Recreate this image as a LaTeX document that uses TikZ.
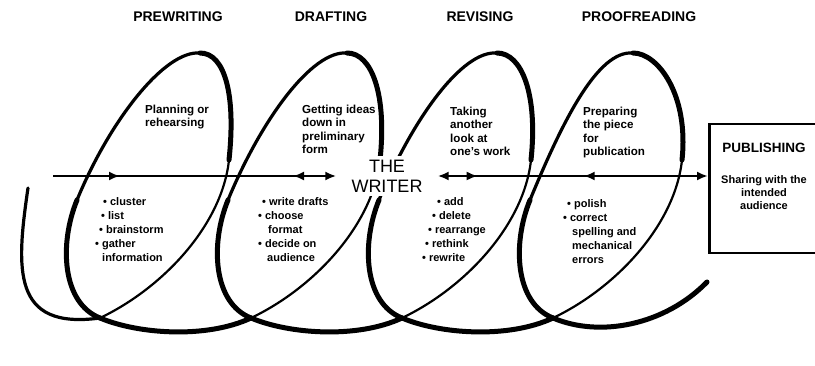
\documentclass[tikz,border=0pt]{standalone}
\usepackage{fontspec}
\setmainfont{Liberation Sans}
\usetikzlibrary{positioning,arrows.meta,decorations.markings}

\begin{document}
\begin{tikzpicture}[x=1pt,y=-1pt,
	stagehead/.style={font=\fontsize{14}{16}\selectfont\bfseries,anchor=base,inner sep=0pt},
	looptext/.style={font=\fontsize{11.6}{13.3}\selectfont\bfseries,align=left,anchor=north west,inner sep=0pt},
	itemtext/.style={font=\fontsize{11}{14}\selectfont\bfseries,align=left,anchor=north west,inner sep=0pt},
	coilthin/.style={line width=2.2pt,line cap=round},
	coilmid/.style={line width=3.2pt,line cap=round},
	coilthick/.style={line width=5pt,line cap=round},
	flowarrow/.style={line width=2.5pt,postaction={decorate}},
	writerbox/.style={font=\fontsize{18}{20}\selectfont,align=center,fill=white,inner xsep=15pt,inner ysep=4pt},
	pubbox/.style={draw,line width=2.5pt,anchor=north west,minimum width=135pt,minimum height=129pt}]

		\useasboundingbox (0,0) rectangle (815,366);
		\clip (0,0) rectangle (815,366);

		\draw[coilmid] (28,188) .. controls (16,270) and (12,330) .. (100,318);
		\foreach \i/\dt in {0/0,1/-4,2/-5,3/-20}{
			\begin{scope}[xshift=\i*151pt]
				\draw[coilthin] (100,318) .. controls (163,288) and (222,225) .. (229,160);
				\draw[coilthick] (229,160) .. controls (236,95) and (225+\dt,53) .. (200+\dt,53);
				\draw[coilmid] (200+\dt,53) .. controls (165+\dt,50) and (110,120) .. (77,200);
				\draw[coilthick] (77,200) .. controls (59,244) and (62,303) .. (100,318);
				\ifnum\i<3
					\draw[coilthick] (100,318) .. controls (138,334) and (206,339) .. (251,318);
				\fi
			\end{scope}
		}
		\draw[coilthick] (553,318) .. controls (600,338) and (665,325) .. (707,282);

		\node[stagehead]	(pre)	at (178,22)	{PREWRITING};
		\node[stagehead]	(dra)	at (331,22)	{DRAFTING};
		\node[stagehead]	(rev)	at (480,22)	{REVISING};
		\node[stagehead]	(pro)	at (639,22)	{PROOFREADING};

		\node[looptext]	(plan)	at (145,105)	{Planning or\\rehearsing};
		\node[looptext]	(ideas)	at (302,105)	{Getting ideas\\down in\\preliminary\\form};
		\node[looptext]	(look)	at (450,107)	{Taking\\another\\look at\\one's work};
		\node[looptext]	(prep)	at (583,107)	{Preparing\\the piece\\for\\publication};

		\node[itemtext]	(prelist)	at (95,197)	{\hspace{8pt}\textbullet\ cluster\\\hspace{6pt}\textbullet\ list\\\hspace{4pt}\textbullet\ brainstorm\\\textbullet\ gather\\\hspace{7pt}information};
		\node[itemtext]	(dralist)	at (258,197)	{\hspace{4pt}\textbullet\ write drafts\\\textbullet\ choose\\\hspace{10pt}format\\\textbullet\ decide on\\\hspace{9pt}audience};
		\node[itemtext]	(revlist)	at (422,197)	{\hspace{15pt}\textbullet\ add\\\hspace{10pt}\textbullet\ delete\\\hspace{6pt}\textbullet\ rearrange\\\hspace{3pt}\textbullet\ rethink\\\textbullet\ rewrite};
		\node[itemtext]	(prolist)	at (563,199)	{\hspace{4pt}\textbullet\ polish\\\textbullet\ correct\\\hspace{9pt}spelling and\\\hspace{9pt}mechanical\\\hspace{9pt}errors};

		\node[writerbox]	(writer)	at (387,176)	{THE\\WRITER};
		\node[pubbox]		(pub)		at (708,123)	{};
		\coordinate (pubtop) at (764,123);
		\node[font=\fontsize{13.5}{16}\selectfont\bfseries,inner sep=0pt,below=20pt of pubtop]	(pubtitle)	{PUBLISHING};
		\node[font=\fontsize{11}{13}\selectfont\bfseries,align=center,inner sep=0pt,below=22pt of pubtitle]	(pubnote)	{Sharing with the\\intended\\audience};

		\coordinate (start) at (53,176);
		\draw[flowarrow,-{Latex[length=11pt,width=9pt]},decoration={markings,
			mark=at position 67pt with {\arrow{Latex[length=11pt,width=9pt]}},
			mark=at position 240pt with {\arrowreversed{Latex[length=11pt,width=9pt]}}}]
			(start) -- (writer.west);
		\draw[flowarrow,{Latex[length=11pt,width=9pt]}-{Latex[length=11pt,width=9pt]},decoration={markings,
			mark=at position 40pt with {\arrow{Latex[length=11pt,width=9pt]}},
			mark=at position 146pt with {\arrowreversed{Latex[length=11pt,width=9pt]}}}]
			(writer.east) -- (writer.east -| pub.west);
	\end{tikzpicture}
\end{document}
